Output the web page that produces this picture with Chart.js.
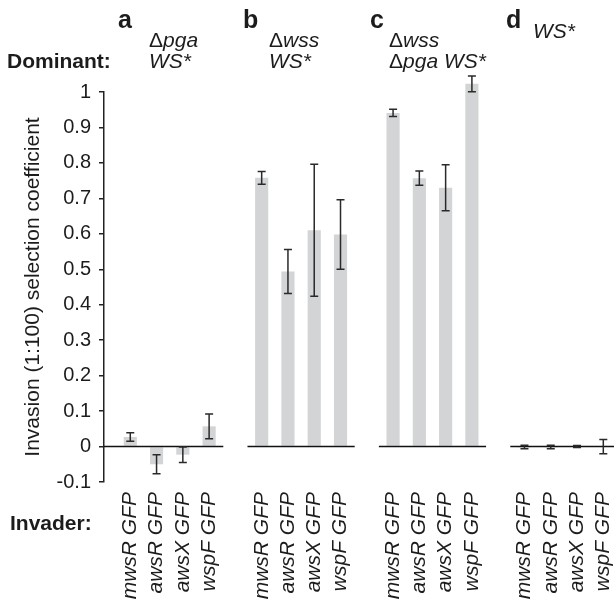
<!DOCTYPE html>
<html>
<head>
<meta charset="utf-8">
<script src="https://cdn.jsdelivr.net/npm/chart.js@4.4.1/dist/chart.umd.min.js"></script>
<style>
  html, body { margin: 0; padding: 0; background: #fff; }
  #wrap { width: 614px; height: 602px; position: relative; }
</style>
</head>
<body>
<div id="wrap"><canvas id="c" width="614" height="602"></canvas></div>
<script>
// ---- data ----
const panels = ['a', 'b', 'c', 'd'];
const invaders = ['mwsR GFP', 'awsR GFP', 'awsX GFP', 'wspF GFP'];
const dominantA = ['Δpga', 'WS*'];
const dominantB = ['Δwss', 'WS*'];
const dominantC = ['Δwss', 'Δpga WS*'];
const dominantD = ['WS*'];
const valuesA = [0.027, -0.050, -0.023, 0.057];
const errorsA = [0.012, 0.027, 0.022, 0.035];
const valuesB = [0.758, 0.494, 0.610, 0.598];
const errorsB = [0.018, 0.062, 0.186, 0.098];
const valuesC = [0.941, 0.757, 0.730, 1.023];
const errorsC = [0.010, 0.020, 0.065, 0.022];
const valuesD = [-0.001, -0.001, 0.000, 0.000];
const errorsD = [0.005, 0.005, 0.003, 0.020];
const yTicks = [-0.1, 0, 0.1, 0.2, 0.3, 0.4, 0.5, 0.6, 0.7, 0.8, 0.9, 1];
const yTitle = 'Invasion (1:100) selection coefficient';

// ---- build library tables ----
const allValues = [valuesA, valuesB, valuesC, valuesD];
const allErrors = [errorsA, errorsB, errorsC, errorsD];
const labels = [''];
const data = [null];
const errs = [null];
allValues.forEach((vals, k) => {
  if (k > 0) { labels.push(''); data.push(null); errs.push(null); }
  vals.forEach((v, i) => { labels.push(invaders[i]); data.push(v); errs.push(allErrors[k][i]); });
});

const FONT = '"Liberation Sans", Arial, Helvetica, sans-serif';
const INK = '#1c1c1c';

const decor = {
  id: 'decor',
  afterDatasetsDraw(chart) {
    const ctx = chart.ctx;
    const xs = chart.scales.x, ys = chart.scales.y;
    const slot = xs.getPixelForValue(2) - xs.getPixelForValue(1);
    const y0 = ys.getPixelForValue(0);
    ctx.save();
    // per-panel zero lines
    ctx.strokeStyle = '#111';
    ctx.lineWidth = 1.5;
    for (let k = 0; k < panels.length; k++) {
      const fi = 1 + k * 5, li = fi + invaders.length - 1;
      const x0 = k === 0 ? chart.chartArea.left : xs.getPixelForValue(fi) - 0.54 * slot;
      const x1 = Math.min(xs.getPixelForValue(li) + 0.54 * slot, chart.width);
      ctx.beginPath(); ctx.moveTo(x0, y0); ctx.lineTo(x1, y0); ctx.stroke();
    }
    // error bars
    ctx.strokeStyle = '#2a2a2a';
    ctx.lineWidth = 1.5;
    const meta = chart.getDatasetMeta(0);
    data.forEach((v, i) => {
      if (v === null) return;
      const x = meta.data[i].x;
      const yt = ys.getPixelForValue(v + errs[i]);
      const yb = ys.getPixelForValue(v - errs[i]);
      const cw = 4;
      ctx.beginPath();
      ctx.moveTo(x, yt); ctx.lineTo(x, yb);
      ctx.moveTo(x - cw, yt); ctx.lineTo(x + cw, yt);
      ctx.moveTo(x - cw, yb); ctx.lineTo(x + cw, yb);
      ctx.stroke();
    });
    ctx.restore();
  },
  afterDraw(chart) {
    const ctx = chart.ctx;
    ctx.save();
    ctx.fillStyle = INK;
    ctx.textBaseline = 'alphabetic';
    ctx.textAlign = 'left';
    // row labels
    ctx.font = 'bold 21px ' + FONT;
    ctx.fillText('Dominant:', 7, 68);
    ctx.fillText('Invader:', 10, 530);
    // panel letters
    const letterX = [118, 243, 370, 506];
    ctx.font = 'bold 25px ' + FONT;
    panels.forEach((p, k) => ctx.fillText(p, letterX[k], 28));
    // dominant strain text
    const doms = [dominantA, dominantB, dominantC, dominantD];
    const textX = [149, 269, 389, 533];
    const lineY = [[47, 68], [47, 68], [47, 68], [38]];
    doms.forEach((lines, k) => {
      lines.forEach((t, j) => {
        let x = textX[k];
        const y = lineY[k][j];
        let rest = t;
        if (t.startsWith('Δ')) {
          ctx.font = '21px ' + FONT;
          ctx.fillText('Δ', x, y);
          x += ctx.measureText('Δ').width;
          rest = t.slice(1);
        }
        ctx.font = 'italic 21px ' + FONT;
        ctx.fillText(rest, x, y);
      });
    });
    ctx.restore();
  }
};

new Chart(document.getElementById('c'), {
  type: 'bar',
  data: {
    labels: labels,
    datasets: [{
      data: data,
      backgroundColor: '#d3d4d6',
      borderWidth: 0,
      barPercentage: 0.5,
      categoryPercentage: 1.0,
      clip: false
    }]
  },
  options: {
    responsive: false,
    animation: false,
    devicePixelRatio: 1,
    layout: { padding: { top: 92, right: 10.7, bottom: 0, left: 0 } },
    plugins: { legend: { display: false }, tooltip: { enabled: false } },
    scales: {
      x: {
        type: 'category',
        offset: false,
        grid: { display: false, drawTicks: false },
        border: { display: false },
        ticks: {
          autoSkip: false,
          minRotation: 90,
          maxRotation: 90,
          padding: 10,
          color: INK,
          font: { family: FONT, size: 21, style: 'italic' }
        },
        afterFit(s) { s.height = 120; s.paddingLeft = 0; s.paddingRight = 0; }
      },
      y: {
        min: -0.1,
        max: 1,
        afterBuildTicks(s) { s.ticks = yTicks.map(v => ({ value: v })); },
        grid: { drawOnChartArea: false, drawTicks: true, tickLength: 5, color: '#222', lineWidth: 1.5 },
        border: { display: true, color: '#222', width: 1.5 },
        ticks: {
          padding: 8,
          color: INK,
          font: { family: FONT, size: 20 },
          callback: v => String(Math.round(v * 10) / 10)
        },
        title: {
          display: true,
          text: yTitle,
          color: INK,
          font: { family: FONT, size: 21 },
          padding: { top: 21, bottom: 0 }
        },
        afterFit(s) { s.width = 104; s.paddingTop = 0; s.paddingBottom = 0; }
      }
    }
  },
  plugins: [decor]
});
</script>
</body>
</html>
